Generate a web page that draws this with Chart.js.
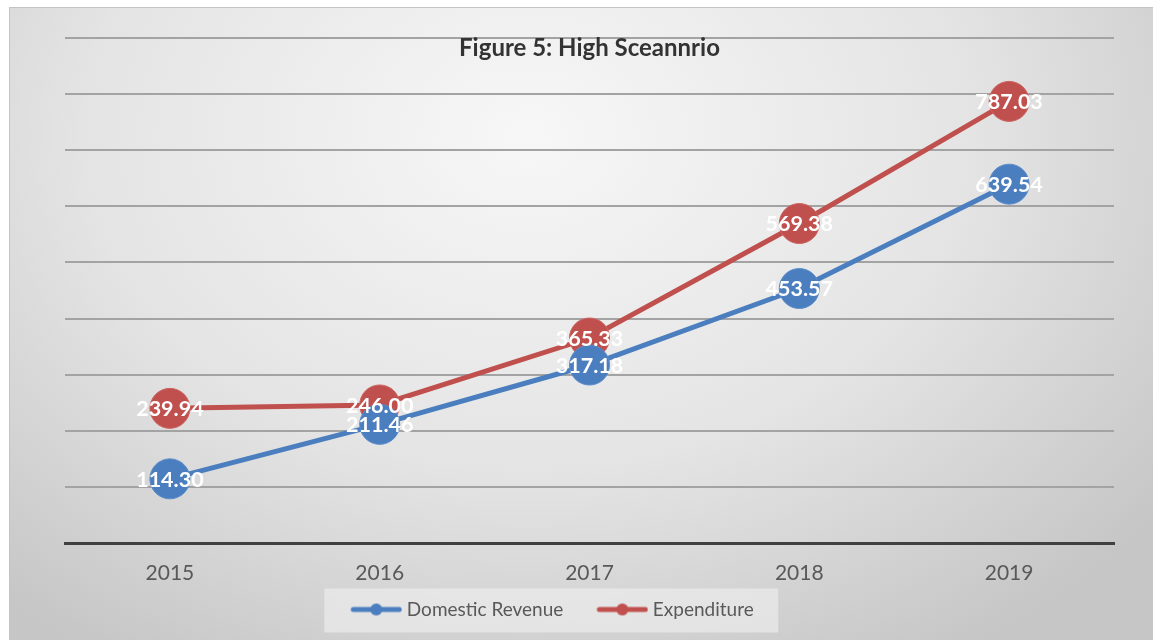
<!DOCTYPE html>
<html>
<head>
<meta charset="utf-8">
<script src="https://cdn.jsdelivr.net/npm/chart.js@4/dist/chart.umd.min.js"></script>
<style>
  html, body { margin: 0; padding: 0; background: #fff; overflow: hidden; }
  #wrap {
    position: absolute; left: 9px; top: 7px; width: 1150px; height: 640px;
    border-top: 1px solid #c4c4c4; border-left: 1px solid #c4c4c4;
    background: radial-gradient(ellipse 70% 95% at 45% 20%, #f7f7f7 0%, #e4e4e4 55%, #c6c6c6 100%);
  }
  canvas { position: absolute; left: 0; top: 0; }
</style>
</head>
<body>
<div id="wrap"><canvas id="chart" width="1144" height="633"></canvas></div>
<script>
const years = ['2015', '2016', '2017', '2018', '2019'];
const revenue = [114.30, 211.46, 317.18, 453.57, 639.54];
const expenditure = [239.94, 246.00, 365.33, 569.38, 787.03];
const titleText = 'Figure 5: High Sceannrio';

const blue = '#4a7ebf';
const red = '#c0504d';
const FONT = 'Lato, "Open Sans", sans-serif';
const LEGEND_SHIFT = 49;

// line+dot swatch for the legend, with blank room on the left as item spacing
function swatch(color) {
    const c = document.createElement('canvas');
    c.width = 80; c.height = 14;
    const g = c.getContext('2d');
    g.strokeStyle = color; g.lineWidth = 5; g.lineCap = 'round';
    g.beginPath(); g.moveTo(31, 7); g.lineTo(77, 7); g.stroke();
    g.fillStyle = color;
    g.beginPath(); g.arc(54, 7, 6, 0, Math.PI * 2); g.fill();
    return c;
}

const extras = {
    id: 'extras',
    afterLayout(chart) {
        chart.legend.left -= LEGEND_SHIFT;
        chart.legend.right -= LEGEND_SHIFT;
    },
    beforeDraw(chart) {
        const lg = chart.legend;
        const ctx = chart.ctx;
        const pad = lg.options.labels.padding;
        const x0 = (lg.left + pad + lg.right - lg.lineWidths[0]) / 2;
        ctx.save();
        ctx.fillStyle = 'rgba(240,240,240,0.6)';
        ctx.fillRect(x0 - 3, lg.top - 1.5, 454, 44);
        ctx.restore();
    },
    afterDatasetsDraw(chart) {
        const ctx = chart.ctx;
        ctx.save();
        ctx.font = 'bold 21.5px ' + FONT;
        ctx.fillStyle = '#ffffff';
        ctx.textAlign = 'center';
        ctx.textBaseline = 'middle';
        chart.data.datasets.forEach((ds, i) => {
            chart.getDatasetMeta(i).data.forEach((pt, j) => {
                ctx.fillText(ds.data[j].toFixed(2), pt.x, pt.y + 1);
            });
        });
        const a = chart.chartArea;
        ctx.font = 'bold 24px ' + FONT;
        ctx.fillStyle = '#333333';
        ctx.fillText(titleText, (a.left + a.right) / 2, a.top + 10);
        ctx.restore();
    }
};

new Chart(document.getElementById('chart'), {
    type: 'line',
    data: {
        labels: years,
        datasets: [
            {
                label: 'Domestic Revenue', data: revenue,
                borderColor: blue, backgroundColor: blue, borderWidth: 5,
                pointRadius: 20, pointBackgroundColor: blue, pointBorderColor: '#5a8cca', pointBorderWidth: 1,
                pointStyle: 'circle'
            },
            {
                label: 'Expenditure', data: expenditure,
                borderColor: red, backgroundColor: red, borderWidth: 5,
                pointRadius: 20, pointBackgroundColor: red, pointBorderColor: '#cc625f', pointBorderWidth: 1,
                pointStyle: 'circle'
            }
        ]
    },
    options: {
        responsive: false,
        animation: false,
        events: [],
        layout: { padding: { left: 55, right: 40, top: 30, bottom: 12 } },
        scales: {
            x: {
                offset: true,
                grid: { display: false, drawTicks: false },
                border: { display: true, color: '#404040', width: 3 },
                ticks: { color: '#595959', font: { family: FONT, size: 21 }, padding: 18 },
                afterFit: s => { s.height = 47; }
            },
            y: {
                min: 0, max: 900,
                ticks: { display: false, stepSize: 100 },
                border: { display: false },
                grid: {
                    drawTicks: false, lineWidth: 2,
                    color: c => c.tick && c.tick.value === 0 ? 'rgba(0,0,0,0)' : '#a3a3a3'
                },
                afterFit: s => { s.width = 0; }
            }
        },
        plugins: {
            title: { display: false },
            tooltip: { enabled: false },
            legend: {
                position: 'bottom',
                labels: {
                    usePointStyle: true,
                    pointStyleWidth: 70,
                    padding: 10,
                    color: '#595959',
                    font: { family: FONT, size: 19 },
                    generateLabels: chart => chart.data.datasets.map((ds, i) => ({
                        text: ds.label,
                        pointStyle: swatch(ds.borderColor),
                        fillStyle: ds.borderColor,
                        strokeStyle: ds.borderColor,
                        lineWidth: 0,
                        fontColor: '#595959',
                        datasetIndex: i
                    }))
                }
            }
        }
    },
    plugins: [extras]
});
</script>
</body>
</html>
